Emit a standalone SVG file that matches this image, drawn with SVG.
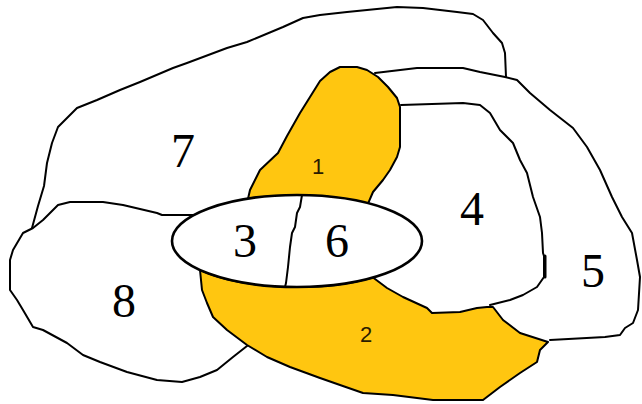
<svg xmlns="http://www.w3.org/2000/svg" width="642" height="404" viewBox="0 0 642 404">
<style>
.ln{fill:none;stroke:#000;stroke-width:2;stroke-linejoin:round;stroke-linecap:round}
.yl{fill:#FFC610;stroke:#000;stroke-width:2;stroke-linejoin:round}
.big{font-family:"Liberation Serif","DejaVu Serif",serif;font-size:48px;fill:#000;text-anchor:middle}
.sm{font-family:"Liberation Sans","DejaVu Sans",sans-serif;font-size:22px;fill:#2a1c00;text-anchor:middle}
</style>
<rect width="642" height="404" fill="#fff"/>
<g id="region7">
<path class="ln" d="M32,228 L38,206 L44,186 L47,163 L52,143 L58,127 L77,108 L97,100 L120,90 L140,82 L173,68 L187,63 L227,48 L247,42 L283,27 L303,18 L320,15 L347,12 L397,7 L423,8 L457,12 L473,14 L483,20 L493,33 L502,43 L505,53 L506,77"/>
<text class="big" x="183" y="167">7</text>
</g>
<g id="region5">
<path class="ln" d="M375,73 L417,68 L463,68 L480,72 L505,77 L517,80 L530,93 L550,110 L573,128 L587,147 L600,170 L612,197 L622,217 L632,233 L637,260 L640,277 L638,310 L633,323 L625,328 L620,335 L605,337 L550,340"/>
<text class="big" x="593" y="287">5</text>
</g>
<g id="region4">
<path class="ln" d="M401,105 L463,103 L480,105 L490,113 L500,130 L513,143 L520,160 L527,173 L533,197 L540,217 L542,233 L543,253 L544,256 L544,277 L537,287 L523,295 L510,300 L490,305"/>
<path class="ln" d="M545,256 L545,277" style="stroke-width:3"/>
<text class="big" x="472" y="225">4</text>
</g>
<g id="region1">
<path class="yl" d="M248,198.7 L250,190 L260,170 L278,153 L287,136 L300,113 L310,97 L320,81 L330,72 L340,67 L357,67 L367,70 L378,77 L388,87 L397,98 L400,107 L400,147 L397,157 L390,170 L383,180 L373,192 L368,203.7 A125,46 0 0 0 248,198.7 Z"/>
<text class="sm" x="318" y="174">1</text>
</g>
<g id="region2">
<path class="yl" d="M200,270 L202,290 L207,303 L213,317 L227,330 L247,345 L267,357 L290,367 L320,378 L340,385 L363,393 L393,395 L433,400 L483,400 L500,387 L520,373 L537,362 L540,350 L548,342 L520,333 L503,320 L493,307 L487,307 L477,308 L460,312 L432,313 L427,308 L403,297 L387,288 L373,277.5 A125,46 0 0 1 200,270 Z"/>
<text class="sm" x="366" y="342">2</text>
</g>
<g id="region8">
<path class="ln" d="M194,215 L162,215 L157,213 L123,205 L103,202 L70,202 L58,205 L43,220 L33,228 L23,233 L13,250 L10,260 L10,290 L17,300 L23,310 L33,327 L43,330 L67,343 L83,355 L100,362 L127,372 L157,380 L182,382 L200,377 L217,370 L233,357 L247,346"/>
<text class="big" x="124" y="317">8</text>
</g>
<g id="region3-6">
<ellipse cx="297" cy="241" rx="125" ry="46" fill="#fff" stroke="#000" stroke-width="2.6"/>
<path class="ln" d="M302,195 L300,207 L297,213 L295,227 L292,233 L290,247 L288,267 L286,283 L285,287"/>
<text class="big" x="245" y="257">3</text>
<text class="big" x="337" y="257">6</text>
</g>
</svg>
